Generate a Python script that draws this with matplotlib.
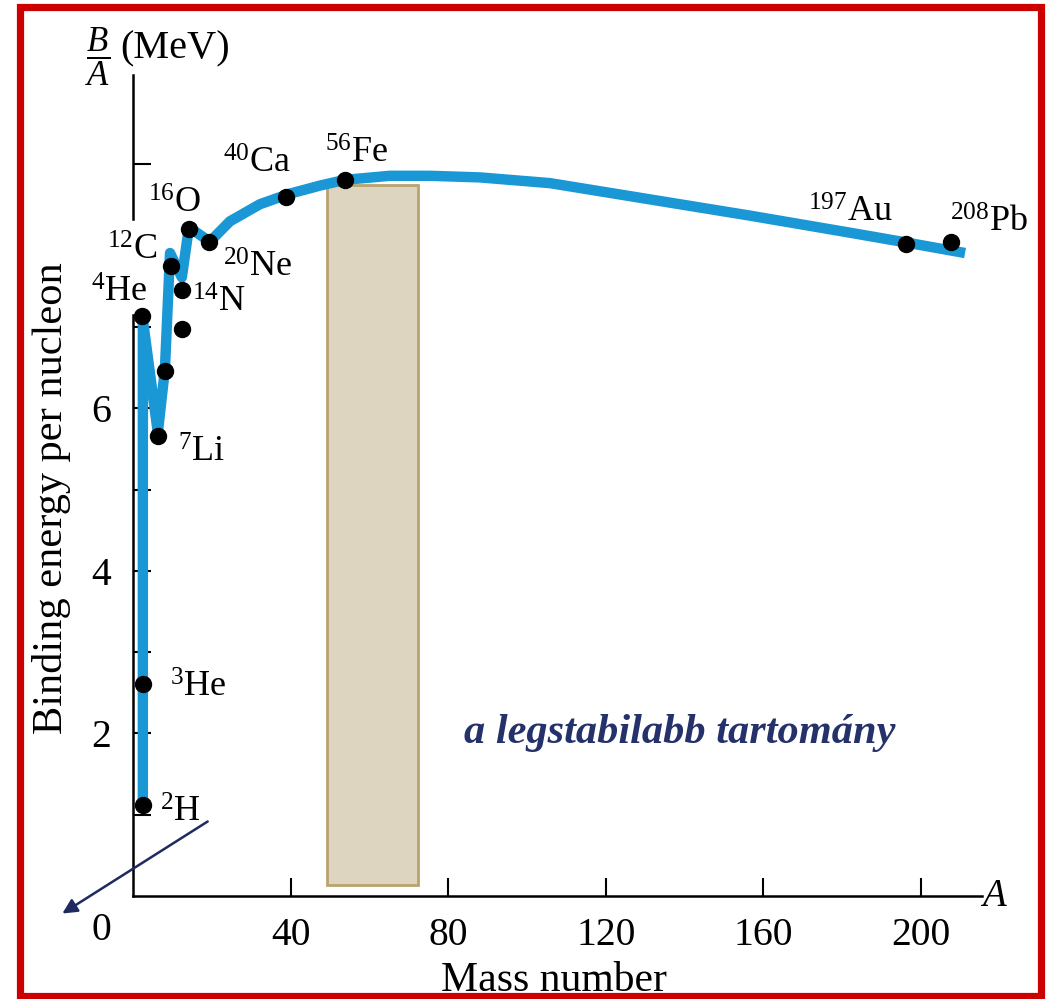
import matplotlib
matplotlib.use("Agg")
import matplotlib.pyplot as plt
from matplotlib.patches import Rectangle

plt.rcParams['font.family'] = ['Liberation Serif', 'DejaVu Serif']
plt.rcParams['mathtext.fontset'] = 'custom'
plt.rcParams['mathtext.rm'] = 'Liberation Serif'
plt.rcParams['mathtext.it'] = 'Liberation Serif:italic'

# smooth binding-energy curve (A, B/A)
curve_a = [2.5, 2.5, 6.3, 8.1, 9.4, 12.4, 14.0, 15.0, 19.5, 24.6, 32.2, 39.8, 47.5,
           53.8, 65.2, 75.4, 88.1, 105.8, 131.2, 156.6, 182.0, 196.2, 211.2]
curve_b = [1.12, 7.09, 5.70, 6.48, 7.91, 7.61, 8.16, 8.20, 8.05, 8.30, 8.51, 8.64, 8.74,
           8.81, 8.86, 8.86, 8.84, 8.77, 8.57, 8.37, 8.16, 8.04, 7.91]

# measured nuclei (black dots)
nuc_a = [2.5, 2.5, 2.3, 6.3, 8.1, 12.4, 9.6, 12.4, 14.2, 19.3, 38.8, 53.8, 196.2, 207.6]
nuc_b = [1.12, 2.61, 7.13, 5.66, 6.46, 6.98, 7.75, 7.46, 8.20, 8.05, 8.60, 8.81, 8.02, 8.05]

# labels: text, x, y (baseline), alignment
labels = [
    ('$^{2}$H', 6.9, 0.91, 'left'),
    ('$^{3}$He', 9.4, 2.45, 'left'),
    ('$^{4}$He', 3.8, 7.31, 'right'),
    ('$^{7}$Li', 11.4, 5.34, 'left'),
    ('$^{12}$C', 6.1, 7.83, 'right'),
    ('$^{14}$N', 15.0, 7.19, 'left'),
    ('$^{16}$O', 3.8, 8.41, 'left'),
    ('$^{20}$Ne', 22.8, 7.62, 'left'),
    ('$^{40}$Ca', 22.8, 8.90, 'left'),
    ('$^{56}$Fe', 48.7, 9.02, 'left'),
    ('$^{197}$Au', 171.3, 8.30, 'left'),
    ('$^{208}$Pb', 207.4, 8.17, 'left'),
]

# most stable region
stable_a = (49.2, 72.3)
stable_b = (0.13, 8.75)

xticks = [40, 80, 120, 160, 200]
yticks = [1, 2, 3, 4, 5, 6, 7, 9]
ytick_labels = ['', '2', '', '4', '', '6', '', '']

fig = plt.figure(figsize=(10.56, 9.99), dpi=100)
ax = fig.add_axes([133 / 1056, 103 / 999, 849 / 1056, 821 / 999])
ax.set_xlim(0, 215.5)
ax.set_ylim(0, 10.1)

ax.add_patch(Rectangle((stable_a[0], stable_b[0]), stable_a[1] - stable_a[0],
                       stable_b[1] - stable_b[0], facecolor='#DDD5C0',
                       edgecolor='#B9A36E', lw=2, zorder=2))

ax.plot(curve_a, curve_b, color='#1A98D5', lw=7.5, zorder=3, solid_capstyle='butt')
ax.plot(nuc_a, nuc_b, 'o', color='black', ms=11.5, zorder=4)

for txt, x, y, ha in labels:
    ax.text(x, y, txt, fontsize=26, ha=ha, va='baseline', zorder=5)

ax.text(138.8, 2.0, 'a legstabilabb tartomány', fontsize=30.5, fontweight='bold',
        fontstyle='italic', color='#25316A', ha='center', va='center')

# axes styling
for s in ['top', 'right']:
    ax.spines[s].set_visible(False)
ax.spines['left'].set_bounds(0, 7.15)
ax.spines['left'].set_linewidth(1.8)
ax.spines['bottom'].set_linewidth(1.8)
ax.axvline(0, ymin=8.33 / 10.1, ymax=1, color='black', lw=1.8, clip_on=False)

ax.set_xticks(xticks)
ax.set_yticks(yticks)
ax.set_yticklabels(ytick_labels)
ax.tick_params(direction='in', length=13, width=1.5, labelsize=28.5, pad=16)
ax.tick_params(axis='x', pad=15)
ax.text(-8, -0.42, '0', fontsize=28.5, ha='center', va='center')
ax.text(218.5, 0.0, 'A', fontsize=28, fontstyle='italic', ha='center', va='center')

ax.set_xlabel('Mass number', fontsize=30)
ax.xaxis.set_label_coords(0.496, -0.080)
ax.set_ylabel('Binding energy per nucleon', fontsize=30.5)
ax.yaxis.set_label_coords(-0.073, 0.485)

ax.text(-9.1, 10.33, r'$\dfrac{B}{A}$', fontsize=25, ha='center', va='center')
ax.text(-3.3, 10.42, '(MeV)', fontsize=29, ha='left', va='center')

# arrow pointing out of the plot
ax.annotate('', xy=(60, 84), xytext=(210, 179), xycoords='figure pixels',
            textcoords='figure pixels', annotation_clip=False,
            arrowprops=dict(arrowstyle='-|>', color='#1F2A5E', lw=1.8,
                            mutation_scale=22))

# red frame
fig.patches.append(Rectangle((20 / 1056, 3 / 999), 1021 / 1056, 989.5 / 999,
                             transform=fig.transFigure, fill=False,
                             edgecolor='#CC0000', lw=5.2))

fig.savefig('out.png', dpi=100)
